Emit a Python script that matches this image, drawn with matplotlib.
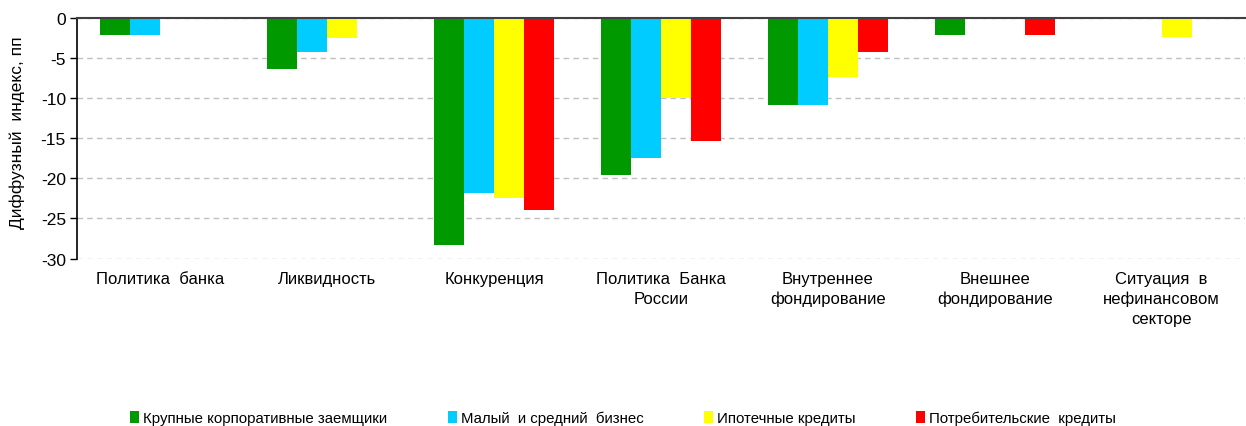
import matplotlib
matplotlib.use("Agg")
import matplotlib.pyplot as plt
import numpy as np
from matplotlib.patches import Patch

plt.rcParams['font.family'] = ['Liberation Sans', 'DejaVu Sans']

categories = ["Политика  банка", "Ликвидность", "Конкуренция", "Политика  Банка\nРоссии",
              "Внутреннее\nфондирование", "Внешнее\nфондирование", "Ситуация  в\nнефинансовом\nсекторе"]
series_names = ["Крупные корпоративные заемщики", "Малый  и средний  бизнес",
                "Ипотечные кредиты", "Потребительские  кредиты"]
large_corp = [-2.1, -6.4, -28.3, -19.6, -10.8, -2.1, 0]
sme = [-2.1, -4.2, -21.8, -17.5, -10.8, 0, 0]
mortgage = [0, -2.5, -22.5, -10.0, -7.4, 0, -2.4]
consumer = [0, 0, -24.0, -15.3, -4.2, -2.1, 0]
colors = ["#009900", "#00CCFF", "#FFFF00", "#FF0000"]
yticks = [0, -5, -10, -15, -20, -25, -30]

fig = plt.figure(figsize=(12.46, 4.27), dpi=100)
ax = fig.add_axes([77/1246, 1-260/427, (1245-77)/1246, (260-19)/427])

x = np.arange(len(categories))
w = 0.18
all_series = [large_corp, sme, mortgage, consumer]
for i, (vals, c) in enumerate(zip(all_series, colors)):
    ax.bar(x + (i - 1.5) * w, vals, width=w, color=c, edgecolor='none', zorder=3)

ax.set_xlim(-0.5, len(categories) - 0.5)
ax.set_ylim(-30.05, 0)
ax.set_yticks(yticks)
ax.set_yticklabels([str(v) for v in yticks], fontsize=12.5)
ax.yaxis.grid(True, linestyle=(0, (4, 3)), color='#c0c0c0', linewidth=1, zorder=0)
ax.set_xticks(x)
ax.set_xticklabels(categories, fontsize=12, linespacing=1.4)
ax.xaxis.set_ticks_position('none')
ax.tick_params(axis='x', labeltop=False, labelbottom=True, pad=5)
ax.tick_params(axis='y', direction='out', length=5, width=1, colors='black', labelsize=12.5, pad=3)

for s in ['right', 'bottom']:
    ax.spines[s].set_visible(False)
ax.spines['left'].set_color('black')
ax.spines['left'].set_linewidth(1.2)
ax.spines['top'].set_color('#404040')
ax.spines['top'].set_linewidth(1.5)
ax.spines['top'].set_zorder(5)

ax.set_ylabel("Диффузный  индекс, пп", fontsize=12.5)
ax.yaxis.set_label_coords(-0.0445, 0.527)

handles = [Patch(facecolor=c, edgecolor='none') for c in colors]
fig.legend(handles, series_names, loc='center', bbox_to_anchor=(0.5, 1-419/427), ncol=4,
           frameon=False, fontsize=10.8, handlelength=0.6, handleheight=0.9, handletextpad=0.3,
           columnspacing=4.0)

fig.savefig("out.png", dpi=100)
